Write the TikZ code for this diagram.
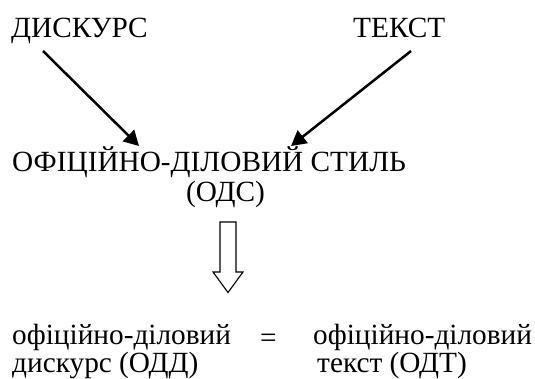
\documentclass[tikz,border=0pt]{standalone}
\usepackage{fontspec}
\setmainfont{Liberation Serif}
\usetikzlibrary{arrows.meta}
\begin{document}
\begin{tikzpicture}[x=1pt,y=-1pt,
  lbl/.style={anchor=base west,inner sep=0pt,font=\fontsize{29.3}{30}\selectfont},
  twoline/.style={anchor=base west,inner sep=0pt,align=left,font=\fontsize{29.3}{25}\selectfont},
  thinarrow/.style={line width=2.5pt,-{Triangle[length=15pt,width=16pt]}},
  hollow/.style={draw=black,line width=1.1pt,fill=white}]
\useasboundingbox (0,0) rectangle (535,379);
\node[lbl] (dis) at (11,38) {ДИСКУРС};
\node[lbl] (tex) at (353,38) {ТЕКСТ};
\node[lbl] (ods) at (12,172) {ОФІЦІЙНО-ДІЛОВИЙ СТИЛЬ};
\node[lbl] (odsab) at (186,202) {(ОДС)};
\node[twoline] (left) at (12,372) {офіційно-діловий\\дискурс (ОДД)};
\node[lbl] (eq) at (260,347) {=};
\node[twoline] (right) at (313,372) {офіційно-діловий\\\hspace*{4pt}текст (ОДТ)};
\coordinate (a1s) at (43,51);
\coordinate (a1e) at (139,146);
\coordinate (a2s) at (411,51);
\coordinate (a2e) at (291,146);
\draw[thinarrow] (a1s) -- (a1e);
\draw[thinarrow] (a2s) -- (a2e);
\draw[hollow] (220,222) -- (236,222) -- (236,272) -- (243,272) -- (228,292.5)
  -- (213,272) -- (220,272) -- cycle;
\end{tikzpicture}
\end{document}
